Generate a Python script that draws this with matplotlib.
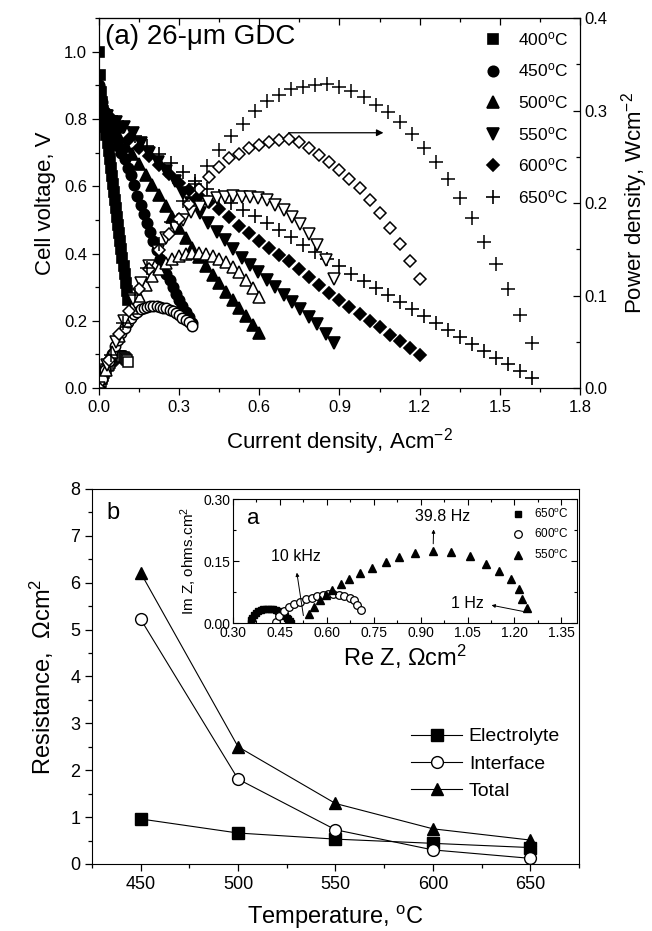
import matplotlib
matplotlib.use("Agg")
import matplotlib.pyplot as plt
from matplotlib.ticker import MultipleLocator

plt.rcParams["font.family"] = ["Liberation Sans", "DejaVu Sans"]
plt.rcParams["mathtext.fontset"] = "custom"
plt.rcParams["mathtext.rm"] = "Liberation Sans"
plt.rcParams["mathtext.it"] = "Liberation Sans:italic"
plt.rcParams["mathtext.bf"] = "Liberation Sans:bold"

# ---- (a) I-V and power curves, 26-um GDC cell ----
i400 = [0, 0.004, 0.008, 0.012, 0.016, 0.02, 0.024, 0.028, 0.032, 0.036, 0.04, 0.044, 0.048, 0.052,
        0.056, 0.06, 0.064, 0.068, 0.072, 0.076, 0.08, 0.084, 0.088, 0.092, 0.096, 0.1, 0.104, 0.108]
v400 = [1.0, 0.93, 0.88, 0.85, 0.825, 0.80, 0.775, 0.752, 0.728, 0.704, 0.68, 0.655, 0.63, 0.606,
        0.582, 0.558, 0.534, 0.51, 0.486, 0.461, 0.437, 0.412, 0.388, 0.363, 0.338, 0.313, 0.288, 0.262]
p400 = [0, 0.0037, 0.007, 0.0102, 0.0132, 0.016, 0.0186, 0.0211, 0.0233, 0.0253, 0.0272, 0.0288, 0.0302, 0.0315,
        0.0326, 0.0335, 0.0342, 0.0347, 0.035, 0.035, 0.035, 0.0346, 0.0341, 0.0334, 0.0324, 0.0313, 0.03, 0.0283]

i450 = [0, 0.012, 0.024, 0.036, 0.048, 0.06, 0.072, 0.084, 0.096, 0.108, 0.12, 0.132, 0.144, 0.156, 0.168,
        0.18, 0.192, 0.204, 0.216, 0.228, 0.24, 0.252, 0.264, 0.276, 0.288, 0.3, 0.312, 0.324, 0.336, 0.348]
v450 = [0.90, 0.85, 0.82, 0.795, 0.77, 0.745, 0.72, 0.70, 0.68, 0.655, 0.632, 0.605, 0.57, 0.543, 0.516,
        0.49, 0.463, 0.437, 0.41, 0.385, 0.362, 0.34, 0.32, 0.30, 0.281, 0.262, 0.244, 0.227, 0.21, 0.193]
p450 = [0, 0.010, 0.020, 0.029, 0.037, 0.045, 0.052, 0.059, 0.065, 0.071, 0.076, 0.080, 0.082, 0.085, 0.087,
        0.088, 0.089, 0.089, 0.089, 0.088, 0.087, 0.086, 0.084, 0.083, 0.081, 0.079, 0.076, 0.074, 0.071, 0.067]

i500 = [0, 0.025, 0.05, 0.075, 0.1, 0.125, 0.15, 0.175, 0.2, 0.225, 0.25, 0.275, 0.3,
        0.325, 0.35, 0.375, 0.4, 0.425, 0.45, 0.475, 0.5, 0.525, 0.55, 0.575, 0.6]
v500 = [0.88, 0.80, 0.78, 0.747, 0.72, 0.696, 0.667, 0.634, 0.605, 0.573, 0.54, 0.509, 0.477,
        0.446, 0.417, 0.389, 0.363, 0.336, 0.311, 0.286, 0.262, 0.238, 0.213, 0.188, 0.163]
p500 = [0, 0.020, 0.039, 0.056, 0.072, 0.087, 0.100, 0.111, 0.121, 0.129, 0.135, 0.140, 0.143,
        0.145, 0.146, 0.146, 0.145, 0.143, 0.140, 0.136, 0.131, 0.125, 0.117, 0.108, 0.098]

i550 = [0, 0.031, 0.063, 0.094, 0.126, 0.157, 0.188, 0.22, 0.251, 0.283, 0.314, 0.346, 0.377, 0.409, 0.44,
        0.471, 0.503, 0.534, 0.566, 0.597, 0.629, 0.66, 0.691, 0.723, 0.754, 0.786, 0.817, 0.849, 0.88]
v550 = [0.88, 0.81, 0.79, 0.775, 0.758, 0.728, 0.70, 0.672, 0.644, 0.616, 0.58, 0.55, 0.52, 0.492, 0.465,
        0.44, 0.413, 0.388, 0.366, 0.345, 0.322, 0.30, 0.278, 0.256, 0.235, 0.212, 0.19, 0.162, 0.134]
p550 = [0, 0.025, 0.050, 0.073, 0.096, 0.114, 0.132, 0.148, 0.162, 0.174, 0.182, 0.190, 0.196, 0.201, 0.205,
        0.207, 0.208, 0.207, 0.207, 0.206, 0.203, 0.198, 0.192, 0.185, 0.177, 0.167, 0.155, 0.138, 0.118]

i600 = [0, 0.0375, 0.075, 0.1125, 0.15, 0.1875, 0.225, 0.2625, 0.3, 0.3375, 0.375, 0.4125, 0.45, 0.4875,
        0.525, 0.5625, 0.6, 0.6375, 0.675, 0.7125, 0.75, 0.7875, 0.825, 0.8625, 0.9, 0.9375, 0.975,
        1.0125, 1.05, 1.0875, 1.125, 1.1625, 1.2]
v600 = [0.88, 0.81, 0.77, 0.74, 0.713, 0.69, 0.663, 0.635, 0.61, 0.59, 0.572, 0.553, 0.532, 0.51,
        0.482, 0.46, 0.438, 0.417, 0.397, 0.378, 0.355, 0.33, 0.305, 0.283, 0.262, 0.241, 0.221,
        0.200, 0.180, 0.159, 0.139, 0.118, 0.098]
p600 = [0, 0.030, 0.058, 0.083, 0.107, 0.129, 0.149, 0.167, 0.183, 0.199, 0.215, 0.228, 0.239, 0.249,
        0.253, 0.259, 0.263, 0.266, 0.268, 0.269, 0.266, 0.260, 0.252, 0.244, 0.236, 0.226, 0.216,
        0.203, 0.189, 0.173, 0.156, 0.137, 0.118]

i650 = [0, 0.045, 0.09, 0.135, 0.18, 0.225, 0.27, 0.315, 0.36, 0.405, 0.45, 0.495, 0.54, 0.585, 0.63,
        0.675, 0.72, 0.765, 0.81, 0.855, 0.9, 0.945, 0.99, 1.035, 1.08, 1.125, 1.17, 1.215, 1.26,
        1.305, 1.35, 1.395, 1.44, 1.485, 1.53, 1.575, 1.62]
v650 = [0.88, 0.81, 0.775, 0.75, 0.72, 0.695, 0.668, 0.642, 0.615, 0.592, 0.572, 0.55, 0.53, 0.512, 0.492,
        0.47, 0.448, 0.425, 0.405, 0.385, 0.362, 0.34, 0.318, 0.296, 0.276, 0.256, 0.235, 0.214, 0.194,
        0.173, 0.152, 0.132, 0.11, 0.09, 0.07, 0.05, 0.03]
p650 = [0, 0.036, 0.070, 0.101, 0.130, 0.156, 0.180, 0.202, 0.221, 0.240, 0.257, 0.272, 0.286, 0.300, 0.310,
        0.317, 0.323, 0.325, 0.328, 0.329, 0.326, 0.321, 0.315, 0.306, 0.298, 0.288, 0.275, 0.260, 0.244,
        0.226, 0.205, 0.184, 0.158, 0.134, 0.107, 0.079, 0.049]

# ---- (b) resistances vs temperature ----
temps = [450, 500, 550, 600, 650]
r_electrolyte = [0.96, 0.66, 0.53, 0.44, 0.35]
r_interface = [5.22, 1.81, 0.73, 0.30, 0.12]
r_total = [6.21, 2.50, 1.29, 0.75, 0.51]

# ---- inset: impedance spectra ----
z650_re = [0.356, 0.358, 0.362, 0.367, 0.373, 0.380, 0.388, 0.396, 0.404, 0.412, 0.420,
           0.428, 0.436, 0.444, 0.452, 0.459, 0.466, 0.472, 0.477, 0.481, 0.484]
z650_im = [0.000, 0.007, 0.013, 0.019, 0.024, 0.028, 0.031, 0.033, 0.034, 0.034, 0.034,
           0.033, 0.031, 0.029, 0.026, 0.022, 0.018, 0.013, 0.009, 0.004, 0.000]
z600_re = [0.437, 0.448, 0.464, 0.480, 0.496, 0.515, 0.533, 0.551, 0.570,
           0.589, 0.604, 0.621, 0.638, 0.656, 0.673, 0.686, 0.697, 0.708]
z600_im = [0.003, 0.016, 0.029, 0.039, 0.045, 0.051, 0.057, 0.061, 0.065,
           0.068, 0.070, 0.071, 0.069, 0.066, 0.061, 0.055, 0.044, 0.032]
z550_re = [0.544, 0.558, 0.579, 0.597, 0.618, 0.645, 0.671, 0.706, 0.745, 0.788, 0.831,
           0.881, 0.940, 0.996, 1.057, 1.108, 1.150, 1.188, 1.215, 1.225, 1.240]
z550_im = [0.021, 0.039, 0.056, 0.068, 0.081, 0.094, 0.107, 0.121, 0.134, 0.148, 0.160,
           0.169, 0.175, 0.173, 0.163, 0.142, 0.126, 0.106, 0.082, 0.058, 0.036]

series = [
    ("400", "s", 7, i400, v400, p400),
    ("450", "o", 7.5, i450, v450, p450),
    ("500", "^", 8, i500, v500, p500),
    ("550", "v", 8, i550, v550, p550),
    ("600", "D", 6.5, i600, v600, p600),
    ("650", "+", 9.5, i650, v650, p650),
]

fig = plt.figure(figsize=(6.52, 9.31), dpi=100)

# top panel
ax = fig.add_axes([0.1518, 0.5832, 0.7377, 0.3974])
ax2 = ax.twinx()
for label, mk, ms, cur, volt, pw in series:
    ax.plot(cur, volt, linestyle="none", marker=mk, ms=ms, color="black", mew=1.2,
            label=label + "$^{\\rm o}$C")
    ax2.plot(cur, pw, linestyle="none", marker=mk, ms=ms, color="black", mfc="white", mew=1.1)

ax.set_xlim(0, 1.8)
ax.set_ylim(0, 1.1)
ax2.set_ylim(0, 0.4)
ax.xaxis.set_minor_locator(MultipleLocator(0.15))
ax.yaxis.set_minor_locator(MultipleLocator(0.1))
ax2.yaxis.set_minor_locator(MultipleLocator(0.05))
ax.set_xticks([0, 0.3, 0.6, 0.9, 1.2, 1.5, 1.8])
ax.set_xticklabels(["0.0", "0.3", "0.6", "0.9", "1.2", "1.5", "1.8"])
ax.set_yticks([0, 0.2, 0.4, 0.6, 0.8, 1.0])
ax.set_yticklabels(["0.0", "0.2", "0.4", "0.6", "0.8", "1.0"])
ax2.set_yticks([0, 0.1, 0.2, 0.3, 0.4])
ax2.set_yticklabels(["0.0", "0.1", "0.2", "0.3", "0.4"])
ax.tick_params(which="both", direction="out", labelsize=12, width=0.9, top=False, right=False)
ax.tick_params(which="major", length=5)
ax.tick_params(which="minor", length=3)
ax2.tick_params(which="both", direction="in", labelsize=12, width=0.9)
ax2.tick_params(which="major", length=5)
ax2.tick_params(which="minor", length=3)
sec = ax.secondary_xaxis("top")
sec.set_xticks([0, 0.3, 0.6, 0.9, 1.2, 1.5, 1.8])
sec.xaxis.set_minor_locator(MultipleLocator(0.15))
sec.tick_params(which="both", direction="in", labeltop=False, width=0.9)
sec.tick_params(which="major", length=5)
sec.tick_params(which="minor", length=3)

ax.set_xlabel("Current density, Acm$^{-2}$", fontsize=16, labelpad=8)
ax.set_ylabel("Cell voltage, V", fontsize=16, labelpad=6)
ax2.set_ylabel("Power density, Wcm$^{-2}$", fontsize=16, labelpad=8)
ax.text(0.012, 0.985, "(a) 26-\u03bcm GDC", transform=ax.transAxes, fontsize=20,
        ha="left", va="top")
ax.legend(loc="upper right", frameon=False, fontsize=12.5, handletextpad=0.8,
          labelspacing=0.78, borderaxespad=0.3, handlelength=1.2)
ax2.annotate("", xy=(1.075, 0.276), xytext=(0.70, 0.276),
             arrowprops=dict(arrowstyle="-|>", color="black", lw=0.9, mutation_scale=10))

# bottom panel
bx = fig.add_axes([0.1411, 0.0720, 0.7469, 0.4028])
bx.plot(temps, r_electrolyte, marker="s", ms=8, color="black", lw=0.8, label="Electrolyte")
bx.plot(temps, r_interface, marker="o", ms=8.5, color="black", mfc="white", lw=0.8, label="Interface")
bx.plot(temps, r_total, marker="^", ms=9, color="black", lw=0.8, label="Total")
bx.set_xlim(425, 675)
bx.set_ylim(0, 8)
bx.set_xticks(temps)
bx.xaxis.set_minor_locator(MultipleLocator(25))
bx.yaxis.set_major_locator(MultipleLocator(1))
bx.yaxis.set_minor_locator(MultipleLocator(0.5))
bx.tick_params(which="both", direction="out", labelsize=13, width=0.9, top=False, right=False)
bx.tick_params(which="major", length=5)
bx.tick_params(which="minor", length=3)
bx.set_xlabel("Temperature, $^{\\rm o}$C", fontsize=17, labelpad=8)
bx.set_ylabel("Resistance,  $\\Omega$cm$^2$", fontsize=17, labelpad=10)
bx.text(0.03, 0.965, "b", transform=bx.transAxes, fontsize=17, ha="left", va="top")
bx.legend(loc="upper left", bbox_to_anchor=(0.62, 0.41), frameon=False, fontsize=14,
          handlelength=2.6, handletextpad=0.35, labelspacing=0.5)

# inset
ix = fig.add_axes([0.3574, 0.3308, 0.5276, 0.1332])
ix.plot(z650_re, z650_im, linestyle="none", marker="s", ms=4.5, color="black", label="650$^{\\rm o}$C")
ix.plot(z600_re, z600_im, linestyle="none", marker="o", ms=5.5, color="black", mfc="white", mew=0.9,
        label="600$^{\\rm o}$C")
ix.plot(z550_re, z550_im, linestyle="none", marker="^", ms=6, color="black", label="550$^{\\rm o}$C")
ix.set_xlim(0.30, 1.40)
ix.set_ylim(0, 0.30)
ix.set_xticks([0.30, 0.45, 0.60, 0.75, 0.90, 1.05, 1.20, 1.35])
ix.set_xticklabels(["0.30", "0.45", "0.60", "0.75", "0.90", "1.05", "1.20", "1.35"])
ix.xaxis.set_minor_locator(MultipleLocator(0.075))
ix.set_yticks([0, 0.15, 0.30])
ix.set_yticklabels(["0.00", "0.15", "0.30"])
ix.yaxis.set_minor_locator(MultipleLocator(0.075))
ix.tick_params(which="both", direction="in", top=True, right=True, labelsize=10, width=0.8, pad=2)
ix.tick_params(which="major", length=4)
ix.tick_params(which="minor", length=2.5)
ix.set_xlabel("Re Z, $\\Omega$cm$^2$", fontsize=17, labelpad=2)
ix.set_ylabel("Im Z, ohms.cm$^2$", fontsize=11, labelpad=3)
ix.text(0.04, 0.93, "a", transform=ix.transAxes, fontsize=16, ha="left", va="top")
ix.legend(loc="upper right", frameon=False, fontsize=8.5, handletextpad=0.9,
          labelspacing=0.55, borderaxespad=0.3, handlelength=1.0)
ix.annotate("39.8 Hz", xy=(0.94, 0.185), xytext=(0.97, 0.258), fontsize=11.5, ha="center", va="center",
            arrowprops=dict(arrowstyle="<|-", color="black", lw=0.7, mutation_scale=5,
                            shrinkA=2, shrinkB=2, relpos=(0.34, 0.0)), zorder=5)
ix.annotate("10 kHz", xy=(0.525, 0.018), xytext=(0.50, 0.16), fontsize=11.5, ha="center", va="center",
            arrowprops=dict(arrowstyle="<|-", color="black", lw=0.7, mutation_scale=5,
                            shrinkA=4, shrinkB=0, relpos=(0.5, 0.0)), zorder=5)
ix.annotate("1 Hz", xy=(1.228, 0.028), xytext=(1.048, 0.047), fontsize=11.5, ha="center", va="center",
            arrowprops=dict(arrowstyle="<|-", color="black", lw=0.7, mutation_scale=5,
                            shrinkA=4, shrinkB=0, relpos=(1.0, 0.5)), zorder=5)

fig.savefig("out.png", dpi=100)
